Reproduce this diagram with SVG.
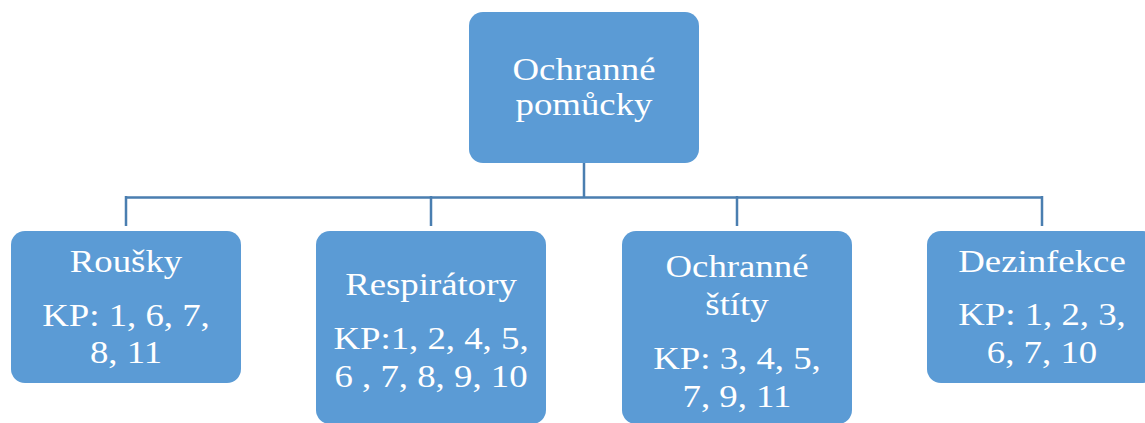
<svg xmlns="http://www.w3.org/2000/svg" width="1145" height="423" viewBox="0 0 1145 423">
<style>
.box{fill:#5B9BD5;}
.t{font-family:"Liberation Serif","Times New Roman",serif;font-size:32px;fill:#ffffff;text-anchor:middle;}
.c{fill:none;stroke:#4A7EB0;stroke-width:2.5;}
</style>
<rect width="1145" height="423" fill="#ffffff"/>
<g id="connectors">
<path class="c" d="M584 163 V197.5 M126 197.5 H1042 M126 196 V226 M431 196 V226 M737 196 V226 M1042 196 V226"/>
</g>
<g id="root">
<rect class="box" x="469" y="12" width="230" height="151" rx="14"/>
<g transform="translate(584,0) scale(1.15,1)">
<text class="t" x="0" y="80">Ochranné</text>
<text class="t" x="0" y="115">pomůcky</text>
</g>
</g>
<g id="rousky">
<rect class="box" x="11" y="231" width="230" height="152" rx="14"/>
<g transform="translate(126,0) scale(1.15,1)">
<text class="t" x="0" y="272">Roušky</text>
<text class="t" x="0" y="326">KP: 1, 6, 7,</text>
<text class="t" x="0" y="363">8, 11</text>
</g>
</g>
<g id="respiratory">
<rect class="box" x="316" y="231" width="230" height="193" rx="14"/>
<g transform="translate(431,0) scale(1.15,1)">
<text class="t" x="0" y="295">Respirátory</text>
<text class="t" x="0" y="349">KP:1, 2, 4, 5,</text>
<text class="t" x="0" y="387">6 , 7, 8, 9, 10</text>
</g>
</g>
<g id="stity">
<rect class="box" x="622" y="231" width="230" height="193" rx="14"/>
<g transform="translate(737,0) scale(1.15,1)">
<text class="t" x="0" y="277">Ochranné</text>
<text class="t" x="0" y="315">štíty</text>
<text class="t" x="0" y="369">KP: 3, 4, 5,</text>
<text class="t" x="0" y="407">7, 9, 11</text>
</g>
</g>
<g id="dezinfekce">
<rect class="box" x="927" y="231" width="230" height="152" rx="14"/>
<g transform="translate(1042,0) scale(1.15,1)">
<text class="t" x="0" y="272">Dezinfekce</text>
<text class="t" x="0" y="325">KP: 1, 2, 3,</text>
<text class="t" x="0" y="363">6, 7, 10</text>
</g>
</g>
</svg>
